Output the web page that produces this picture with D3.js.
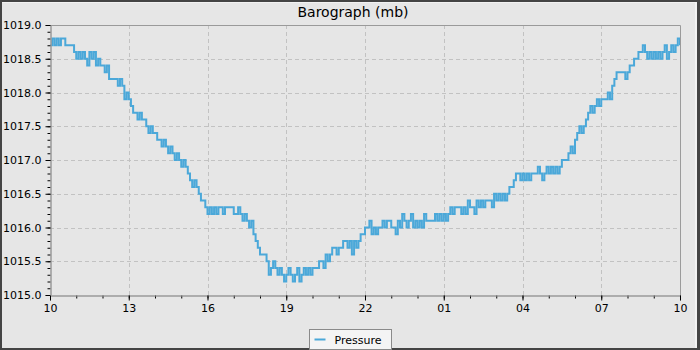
<!DOCTYPE html>
<html>
<head>
<meta charset="utf-8">
<script src="https://cdn.jsdelivr.net/npm/d3@7.9.0/dist/d3.min.js"></script>
<style>
  html, body { margin: 0; padding: 0; background: #444; }
  svg { display: block; font-family: "DejaVu Sans", sans-serif; }
</style>
</head>
<body>
<svg id="chart" width="700" height="350"></svg>
<script>
// readings every 5 minutes, 10:00 -> 10:00 next day (mb)
const sampleMinutes = 5;
const pressure = [
  1018.7, 1018.8, 1018.7, 1018.8, 1018.7, 1018.8, 1018.8, 1018.7, 1018.7, 1018.7, 1018.7, 1018.6,
  1018.5, 1018.6, 1018.5, 1018.6, 1018.5, 1018.4, 1018.6, 1018.5, 1018.6, 1018.4, 1018.5, 1018.4,
  1018.4, 1018.3, 1018.4, 1018.2, 1018.2, 1018.2, 1018.2, 1018.1, 1018.2, 1018.1, 1017.9, 1018.0,
  1017.9, 1017.8, 1017.7, 1017.7, 1017.6, 1017.7, 1017.6, 1017.6, 1017.5, 1017.4, 1017.5, 1017.4,
  1017.4, 1017.3, 1017.3, 1017.2, 1017.3, 1017.2, 1017.1, 1017.2, 1017.1, 1017.0, 1017.1, 1017.0,
  1016.9, 1017.0, 1016.9, 1016.8, 1016.7, 1016.6, 1016.7, 1016.6, 1016.5, 1016.4, 1016.4, 1016.3,
  1016.2, 1016.3, 1016.2, 1016.3, 1016.2, 1016.3, 1016.3, 1016.2, 1016.3, 1016.3, 1016.3, 1016.3,
  1016.2, 1016.2, 1016.3, 1016.2, 1016.1, 1016.2, 1016.1, 1016.0, 1016.1, 1015.9, 1015.8, 1015.7,
  1015.6, 1015.6, 1015.6, 1015.5, 1015.3, 1015.4, 1015.5, 1015.4, 1015.3, 1015.4, 1015.3, 1015.2,
  1015.3, 1015.4, 1015.3, 1015.2, 1015.3, 1015.4, 1015.2, 1015.3, 1015.4, 1015.3, 1015.4, 1015.3,
  1015.4, 1015.4, 1015.4, 1015.5, 1015.5, 1015.4, 1015.6, 1015.5, 1015.6, 1015.7, 1015.7, 1015.6,
  1015.7, 1015.7, 1015.8, 1015.8, 1015.7, 1015.8, 1015.6, 1015.8, 1015.7, 1015.8, 1015.9, 1015.9,
  1016.0, 1016.0, 1016.1, 1015.9, 1016.0, 1015.9, 1016.0, 1016.0, 1016.1, 1016.0, 1016.1, 1016.1,
  1016.0, 1016.0, 1015.9, 1016.1, 1016.0, 1016.2, 1016.1, 1016.0, 1016.1, 1016.2, 1016.0, 1016.1,
  1016.0, 1016.1, 1016.0, 1016.2, 1016.1, 1016.1, 1016.1, 1016.1, 1016.2, 1016.1, 1016.2, 1016.1,
  1016.2, 1016.1, 1016.2, 1016.3, 1016.2, 1016.3, 1016.3, 1016.3, 1016.2, 1016.3, 1016.2, 1016.4,
  1016.3, 1016.3, 1016.2, 1016.4, 1016.3, 1016.4, 1016.3, 1016.4, 1016.4, 1016.4, 1016.3, 1016.5,
  1016.4, 1016.5, 1016.4, 1016.5, 1016.4, 1016.5, 1016.6, 1016.6, 1016.7, 1016.8, 1016.8, 1016.7,
  1016.8, 1016.7, 1016.8, 1016.7, 1016.8, 1016.8, 1016.8, 1016.9, 1016.8, 1016.7, 1016.8, 1016.9,
  1016.8, 1016.9, 1016.8, 1016.9, 1016.8, 1016.9, 1017.0, 1017.0, 1017.0, 1017.1, 1017.2, 1017.1,
  1017.3, 1017.4, 1017.5, 1017.4, 1017.5, 1017.6, 1017.7, 1017.8, 1017.7, 1017.8, 1017.9, 1017.8,
  1017.9, 1017.9, 1017.9, 1018.0, 1017.9, 1018.1, 1018.2, 1018.3, 1018.3, 1018.3, 1018.3, 1018.2,
  1018.3, 1018.4, 1018.4, 1018.5, 1018.5, 1018.6, 1018.6, 1018.7, 1018.6, 1018.5, 1018.6, 1018.5,
  1018.6, 1018.5, 1018.6, 1018.5, 1018.6, 1018.7, 1018.5, 1018.6, 1018.7, 1018.6, 1018.7, 1018.8,
  1018.7
];

const xTickLabels = ['10', '13', '16', '19', '22', '01', '04', '07', '10'];
const yTicks = [1015.0, 1015.5, 1016.0, 1016.5, 1017.0, 1017.5, 1018.0, 1018.5, 1019.0];
const seriesName = 'Pressure';
const title = 'Barograph (mb)';

const W = 700, H = 350;
const margin = { left: 50, right: 20, top: 25, bottom: 55 };
const lineColor = '#4ba8d9';
const bg = '#e6e6e6';

const start = new Date(2000, 0, 1, 10, 0);
const end = d3.timeHour.offset(start, 24);

const data = pressure.map((v, i) => ({ t: d3.timeMinute.offset(start, i * sampleMinutes), v }));

const x = d3.scaleTime().domain([start, end]).range([margin.left, W - margin.right]);
const y = d3.scaleLinear().domain([1015, 1019]).range([H - margin.bottom, margin.top]);

const svg = d3.select('#chart');

// frame
svg.append('rect').attr('width', W).attr('height', H).attr('fill', '#444');
svg.append('rect').attr('x', 2).attr('y', 2).attr('width', W - 5).attr('height', H - 4).attr('fill', bg);
svg.append('line').attr('x1', 2).attr('x2', W - 3).attr('y1', 2.5).attr('y2', 2.5).attr('stroke', '#f2f2f2');
svg.append('line').attr('x1', W - 4).attr('x2', W - 4).attr('y1', 2).attr('y2', H - 2).attr('stroke', '#f2f2f2').attr('stroke-width', 2);

svg.append('text')
  .attr('x', 353).attr('y', 17)
  .attr('text-anchor', 'middle')
  .attr('font-size', 14)
  .attr('fill', '#000')
  .text(title);

// one major tick every 3 hours from the start, one minor tick every hour
const majorTimes = xTickLabels.map((_, i) => d3.timeHour.offset(start, i * 3));
const minorTimes = d3.range(0, 25).map(h => d3.timeHour.offset(start, h));
const minorY = d3.range(1015, 1019.001, 0.1).map(d => +d.toFixed(1));

// grid
const grid = svg.append('g').attr('stroke', '#c2c2c2').attr('stroke-dasharray', '4,3');
grid.selectAll('.gx').data(majorTimes.slice(1, -1)).join('line')
  .attr('x1', d => Math.round(x(d)) + 0.5).attr('x2', d => Math.round(x(d)) + 0.5)
  .attr('y1', y(1019)).attr('y2', y(1015));
grid.selectAll('.gy').data(yTicks.slice(1, -1)).join('line')
  .attr('y1', d => Math.round(y(d)) + 0.5).attr('y2', d => Math.round(y(d)) + 0.5)
  .attr('x1', x(start)).attr('x2', x(end));

// series
const line = d3.line()
  .x(d => x(d.t))
  .y(d => y(d.v))
  .curve(d3.curveStepAfter);

svg.append('path')
  .datum(data)
  .attr('fill', 'none')
  .attr('stroke', lineColor)
  .attr('stroke-width', 2)
  .attr('d', line);

// plot border (top / right)
svg.append('path')
  .attr('d', `M${x(start)},${y(1019) + 0.5}H${x(end) + 0.5}V${y(1015)}`)
  .attr('fill', 'none').attr('stroke', '#9a9a9a');

// axes
const xMinor = svg.append('g').attr('transform', `translate(0,${y(1015) + 0.5})`)
  .call(d3.axisBottom(x).tickValues(minorTimes).tickSize(3).tickFormat(''));
const xMajor = svg.append('g').attr('transform', `translate(0,${y(1015) + 0.5})`)
  .call(d3.axisBottom(x).tickValues(majorTimes).tickSize(5).tickPadding(4)
    .tickFormat((d, i) => xTickLabels[i]));

const yMinor = svg.append('g').attr('transform', `translate(${x(start) + 0.5},0)`)
  .call(d3.axisLeft(y).tickValues(minorY).tickSize(3).tickFormat(''));
const yMajor = svg.append('g').attr('transform', `translate(${x(start) + 0.5},0)`)
  .call(d3.axisLeft(y).tickValues(yTicks).tickSize(5).tickPadding(4).tickFormat(d3.format('.1f')));

[xMinor, xMajor, yMinor, yMajor].forEach(g => {
  g.select('.domain').attr('stroke', '#9a9a9a');
  g.selectAll('.tick line').attr('stroke', '#000');
  g.selectAll('text').attr('font-size', 11).attr('font-family', '"DejaVu Sans", sans-serif').attr('fill', '#000');
});

// legend
const lg = svg.append('g').attr('transform', 'translate(309.5,329.5)');
lg.append('rect').attr('width', 82).attr('height', 20).attr('fill', '#f4f4f4').attr('stroke', '#8a8a8a');
lg.append('line').attr('x1', 5).attr('x2', 16).attr('y1', 10).attr('y2', 10)
  .attr('stroke', lineColor).attr('stroke-width', 2);
lg.append('text').attr('x', 25).attr('y', 14).attr('font-size', 11).attr('fill', '#000').text(seriesName);
</script>
</body>
</html>
